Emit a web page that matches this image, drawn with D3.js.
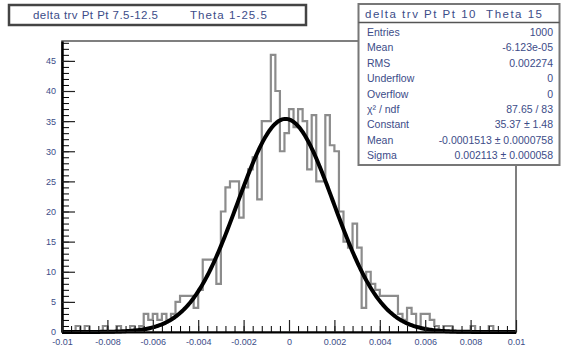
<!DOCTYPE html>
<html>
<head>
<meta charset="utf-8">
<script src="https://cdn.jsdelivr.net/npm/d3@7"></script>
<style>
  body { margin: 0; background: #fff; }
  svg { display: block; font-family: "Liberation Sans", Arial, sans-serif; }
</style>
</head>
<body>
<svg id="chart" width="561" height="351"></svg>
<script>
// histogram: 100 bins from -0.01 to 0.01
const xMin = -0.01;
const xMax = 0.01;
const binCounts = [
  0, 0, 0, 1, 0, 1, 0, 0, 0, 1,
  0, 0, 1, 0, 0, 1, 0, 1, 3, 2,
  3, 2, 3, 2, 3, 5, 6, 6, 6, 4,
  7, 12, 12, 12, 8, 20, 24, 25, 25, 19,
  24, 27, 29, 22, 35, 35, 46, 40, 30, 33,
  37, 34, 37, 35, 27, 36, 25, 25, 36, 31,
  30, 20, 15, 14, 18, 14, 4, 10, 8, 7,
  6, 6, 6, 6, 3, 2, 4, 3, 1, 3,
  3, 2, 1, 0, 1, 1, 0, 0, 0, 0,
  1, 0, 0, 0, 1, 0, 0, 0, 0, 0
];

// gaussian fit parameters (from the stats box)
const fitConstant = 35.37;
const fitMean = -0.0001513;
const fitSigma = 0.002113;

const xTicks = [-0.01, -0.008, -0.006, -0.004, -0.002, 0, 0.002, 0.004, 0.006, 0.008, 0.01];
const xTickLabels = ["-0.01", "-0.008", "-0.006", "-0.004", "-0.002", "0", "0.002", "0.004", "0.006", "0.008", "0.01"];
const yTicks = [0, 5, 10, 15, 20, 25, 30, 35, 40, 45];

const titleParts = ["delta trv Pt Pt 7.5-12.5", "Theta 1-25.5"];
const statsTitle = "delta trv Pt Pt 10  Theta 15";
const statLabels = ["Entries", "Mean", "RMS", "Underflow", "Overflow", "\u03C7\u00B2 / ndf", "Constant", "Mean", "Sigma"];
const statValues = ["1000", "-6.123e-05", "0.002274", "0", "0", "87.65 / 83", "35.37 \u00B1 1.48", "-0.0001513 \u00B1 0.0000758", "0.002113 \u00B1 0.000058"];

const textColor = "#3c4c88";
const frame = { left: 62, right: 516, top: 41, bottom: 332 };

const svg = d3.select("#chart");

const x = d3.scaleLinear().domain([xMin, xMax]).range([frame.left, frame.right]);
const y = d3.scaleLinear().domain([0, 48.3]).range([frame.bottom, frame.top]);

// histogram outline
const binWidth = (xMax - xMin) / binCounts.length;
const steps = binCounts.map((c, i) => [xMin + i * binWidth, c]);
steps.push([xMax, binCounts[binCounts.length - 1]]);

svg.append("path")
  .datum(steps)
  .attr("fill", "none")
  .attr("stroke", "#8c8c8c")
  .attr("stroke-width", 2.2)
  .attr("d", d3.line().x(d => x(d[0])).y(d => y(d[1])).curve(d3.curveStepAfter));

// fit curve
const fitPts = d3.range(0, 401).map(i => {
  const v = xMin + (xMax - xMin) * i / 400;
  return [v, fitConstant * Math.exp(-0.5 * Math.pow((v - fitMean) / fitSigma, 2))];
});
svg.append("path")
  .datum(fitPts)
  .attr("fill", "none")
  .attr("stroke", "#000")
  .attr("stroke-width", 4)
  .attr("stroke-linejoin", "round")
  .attr("d", d3.line().x(d => x(d[0])).y(d => y(d[1])));

// frame
svg.append("rect")
  .attr("x", frame.left).attr("y", frame.top)
  .attr("width", frame.right - frame.left).attr("height", frame.bottom - frame.top)
  .attr("fill", "none").attr("stroke", "#555").attr("stroke-width", 1.5);

// y axis: major + minor ticks pointing into the frame
const yMinor = d3.range(0, 49, 1);
svg.append("g")
  .attr("transform", `translate(${frame.left},0)`)
  .call(d3.axisLeft(y).tickValues(yMinor).tickSizeInner(-7).tickSizeOuter(0).tickFormat(""))
  .call(g => g.select(".domain").remove());
svg.append("g")
  .attr("class", "yaxis")
  .attr("transform", `translate(${frame.left},0)`)
  .call(d3.axisLeft(y).tickValues(yTicks).tickSizeInner(-13).tickSizeOuter(0).tickPadding(6))
  .call(g => g.select(".domain").attr("stroke-width", 2.5));

// x axis
const xMinor = d3.range(0, 51).map(i => xMin + i * 0.0004);
svg.append("g")
  .attr("transform", `translate(0,${frame.bottom})`)
  .call(d3.axisBottom(x).tickValues(xMinor).tickSizeInner(-6).tickSizeOuter(0).tickFormat(""))
  .call(g => g.select(".domain").remove());
svg.append("g")
  .attr("class", "xaxis")
  .attr("transform", `translate(0,${frame.bottom})`)
  .call(d3.axisBottom(x).tickValues(xTicks).tickSizeInner(-12).tickSizeOuter(0).tickPadding(7)
    .tickFormat((d, i) => xTickLabels[i]))
  .call(g => g.select(".domain").attr("stroke-width", 2));

svg.selectAll(".xaxis .tick line, .yaxis .tick line").attr("stroke", "#222").attr("stroke-width", 1.2);
svg.selectAll(".xaxis text, .yaxis text")
  .attr("fill", textColor)
  .style("font-size", "9px");

// title box
svg.append("rect")
  .attr("x", 9).attr("y", 5).attr("width", 297).attr("height", 20)
  .attr("fill", "#fff").attr("stroke", "#444").attr("stroke-width", 2.5);
svg.append("text")
  .attr("x", 33).attr("y", 19)
  .attr("fill", textColor)
  .style("font-size", "11.5px")
  .attr("textLength", 125).attr("lengthAdjust", "spacing")
  .text(titleParts[0]);
svg.append("text")
  .attr("x", 190).attr("y", 19)
  .attr("fill", textColor)
  .style("font-size", "11.5px")
  .attr("textLength", 77).attr("lengthAdjust", "spacing")
  .text(titleParts[1]);

// stats box
const sb = { x: 358.5, y: 4, w: 201, h: 161 };
svg.append("rect")
  .attr("x", sb.x).attr("y", sb.y).attr("width", sb.w).attr("height", sb.h)
  .attr("fill", "#fff").attr("stroke", "#777").attr("stroke-width", 2);
svg.append("line")
  .attr("x1", sb.x).attr("x2", sb.x + sb.w).attr("y1", 22.5).attr("y2", 22.5)
  .attr("stroke", "#555").attr("stroke-width", 1.5);
svg.append("text")
  .attr("x", 365).attr("y", 18)
  .attr("fill", textColor)
  .style("font-size", "11.5px")
  .style("white-space", "pre")
  .attr("textLength", 177).attr("lengthAdjust", "spacing")
  .text(statsTitle);

const rows = svg.append("g").style("font-size", "10.5px").attr("fill", textColor);
statLabels.forEach((lab, i) => {
  const yy = 36 + i * 15.4;
  rows.append("text").attr("x", 367).attr("y", yy).text(lab);
  rows.append("text").attr("x", 553).attr("y", yy).attr("text-anchor", "end").text(statValues[i]);
});
</script>
</body>
</html>
